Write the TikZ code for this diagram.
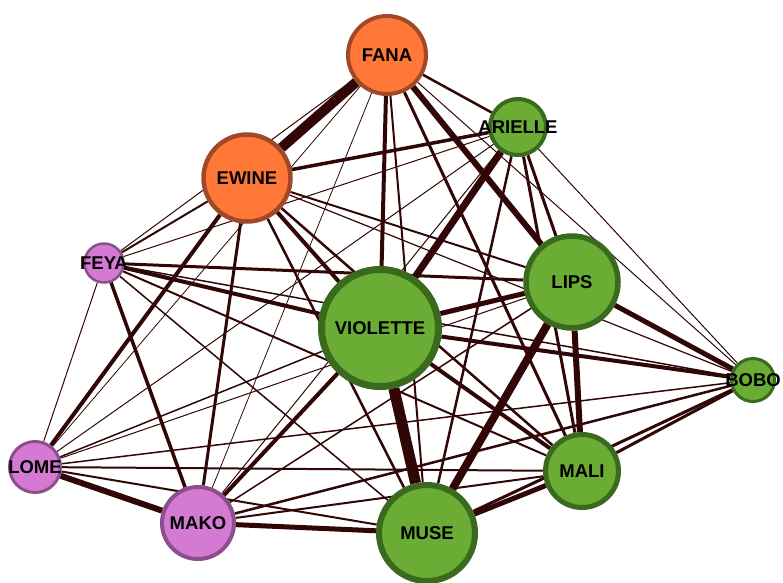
\documentclass[tikz,border=0pt]{standalone}
\usepackage{fontspec}
\setmainfont{Liberation Sans}
\usepackage{tikz}
\usetikzlibrary{backgrounds}
\definecolor{myorange}{RGB}{255,120,56}
\definecolor{myrust}{RGB}{160,72,40}
\definecolor{mygreen}{RGB}{106,172,52}
\definecolor{mymoss}{RGB}{58,106,30}
\definecolor{mypink}{RGB}{212,122,210}
\definecolor{myplum}{RGB}{140,78,140}
\definecolor{mylink}{RGB}{48,6,6}
\tikzset{
  person/.style={circle, inner sep=0pt,
    label={[font=\bfseries\fontsize{18.5}{18.5}\selectfont, text=black]center:#1}},
  orangenode/.style={person=#1, draw=myrust, fill=myorange, line width=4pt},
  greennode/.style={person=#1, draw=mymoss, fill=mygreen, line width=5pt},
  pinknode/.style={person=#1, draw=myplum, fill=mypink, line width=3pt},
  link/.style={color=mylink}
}

\begin{document}
\begin{tikzpicture}[x=1pt, y=-1pt]
  \useasboundingbox (0,0) rectangle (783,582);
  % nodes, pixel positions
  \node[orangenode=FANA, minimum size=78pt] (fana) at (387,55) {};
  \node[orangenode=EWINE, minimum size=87pt, line width=4.5pt] (ewine) at (247,178) {};
  \node[greennode=ARIELLE, minimum size=56pt, line width=4pt] (arielle) at (518,127) {};
  \node[pinknode=FEYA, minimum size=39pt, line width=2.5pt] (feya) at (104,263) {};
  \node[greennode=VIOLETTE, minimum size=117pt, line width=7pt] (violette) at (380,328) {};
  \node[greennode=LIPS, minimum size=92pt, line width=5.5pt] (lips) at (572,282) {};
  \node[greennode=BOBO, minimum size=43pt, line width=3pt] (bobo) at (753,380) {};
  \node[pinknode=LOME, minimum size=51pt] (lome) at (35,467) {};
  \node[greennode=MALI, minimum size=73pt] (mali) at (582,471) {};
  \node[pinknode=MAKO, minimum size=72pt, line width=4pt] (mako) at (198,523) {};
  \node[greennode=MUSE, minimum size=96pt, line width=6pt] (muse) at (427,533) {};

  % weighted links
  \begin{scope}[on background layer]
    \foreach \a/\b/\w in {
      fana/ewine/10, fana/arielle/2.5, fana/feya/1, fana/violette/4,
      fana/lips/6, fana/bobo/1, fana/lome/0.8, fana/mali/3,
      fana/mako/0.8, fana/muse/2,
      ewine/arielle/3.5, ewine/feya/2, ewine/violette/4, ewine/lips/2,
      ewine/bobo/1.2, ewine/lome/4, ewine/mali/2.5, ewine/mako/3,
      ewine/muse/2.5,
      arielle/feya/1, arielle/violette/7, arielle/lips/3, arielle/bobo/1,
      arielle/lome/1, arielle/mali/3, arielle/mako/1, arielle/muse/2.5,
      feya/violette/4, feya/lips/3, feya/bobo/1.5, feya/lome/1,
      feya/mali/2, feya/mako/3.5, feya/muse/1.5,
      violette/lips/5, violette/bobo/4, violette/lome/1.5, violette/mali/4,
      violette/mako/4, violette/muse/11,
      lips/bobo/5, lips/lome/1, lips/mali/6, lips/mako/1.5, lips/muse/8,
      bobo/lome/1.5, bobo/mali/3, bobo/mako/2.5, bobo/muse/3,
      lome/mali/2, lome/mako/6, lome/muse/2,
      mali/mako/2, mali/muse/5, mako/muse/5}
      \draw[link, line width=\w pt] (\a) -- (\b);
  \end{scope}
\end{tikzpicture}
\end{document}
